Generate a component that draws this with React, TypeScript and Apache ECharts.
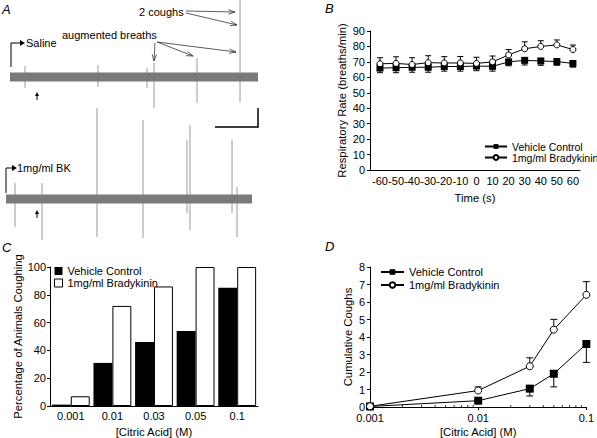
import React, { useEffect, useRef } from 'react';
import * as echarts from 'echarts';

// ---------- Panel A : raw respiratory traces ----------
const traceTopEnd = 248;
const traceTopTimes = [15, 88, 137, 144, 187, 230];
const traceTopHigh = [11, 12, 9, 14, 19, 77];
const traceTopLow = [-11, -10, -11, -31, -26, -25];

const traceBotEnd = 246;
const traceBotTimes = [9, 36, 91, 137, 181, 184, 226, 231];
const traceBotHigh = [16, 16, 91, 79, 59, 74, 59, 12];
const traceBotLow = [-28, -41, -38, -39, -14, -31, -14, -38];

// ---------- Panel B : respiratory rate ----------
const timeS = [-60, -50, -40, -30, -20, -10, 0, 10, 20, 30, 40, 50, 60];
const timeTicks = [-60, -50, -40, -30, -20, -10, 0, 10, 20, 30, 40, 50, 60];
const rrVehicle = [66, 66.2, 66.5, 66.5, 67, 67, 67.3, 67.1, 70, 71, 70.6, 70.2, 69];
const rrVehicleLow = [63, 63, 63.3, 63.3, 64, 64, 64.3, 64, 67.5, 68, 67.8, 67.8, 66.6];
const rrBrady = [68.8, 69, 68.3, 69.5, 69.3, 69.3, 69, 70, 74.5, 78.5, 80, 81, 78];
const rrBradyHigh = [72.7, 73.3, 72.7, 74, 73.4, 73.5, 73, 73.8, 78, 83, 83.7, 84.2, 80.9];

// ---------- Panel C : percentage coughing ----------
const citricCats = ['0.001', '0.01', '0.03', '0.05', '0.1'];
const pctVehicle = [1, 31, 46, 54, 85];
const pctBrady = [7, 72, 86, 100, 100];

// ---------- Panel D : cumulative coughs ----------
const citricConc = [0.001, 0.01, 0.03, 0.05, 0.1];
const coughVehicle = [0.03, 0.36, 1.05, 1.9, 3.6];
const coughVehicleLow = [0.03, 0.36, 0.63, 1.15, 2.55];
const coughBrady = [0.04, 0.94, 2.33, 4.42, 6.41];
const coughBradyHigh = [0.04, 1.15, 2.81, 5.01, 7.16];
const logMinorTicks = [0.002, 0.003, 0.004, 0.005, 0.006, 0.007, 0.008, 0.009, 0.02, 0.03, 0.04, 0.05, 0.06, 0.07, 0.08, 0.09];

const FONT = '"Liberation Sans", Arial, Helvetica, sans-serif';

function openArrow(x1: number, y1: number, x2: number, y2: number) {
  const ang = Math.atan2(y2 - y1, x2 - x1);
  const L = 7, a = 0.32;
  const h1 = [x2 - L * Math.cos(ang - a), y2 - L * Math.sin(ang - a)];
  const h2 = [x2 - L * Math.cos(ang + a), y2 - L * Math.sin(ang + a)];
  return [
    { type: 'line', shape: { x1, y1, x2, y2 }, style: { stroke: '#333', lineWidth: 0.8 } },
    { type: 'polyline', shape: { points: [h1, [x2, y2], h2] }, style: { stroke: '#333', lineWidth: 0.8, fill: 'none' } },
  ];
}

function txt(text: string, x: number, y: number, size = 11, italic = false, align = 'left') {
  return {
    type: 'text', x, y,
    style: { text, fill: '#000', font: `${italic ? 'italic ' : ''}${size}px ${FONT}`, align, verticalAlign: 'middle' },
  };
}

const spikeRender = (params: any, api: any) => {
  const t = api.value(0);
  const p1 = api.coord([t, api.value(1)]);
  const p2 = api.coord([t, api.value(2)]);
  return { type: 'line', shape: { x1: p1[0], y1: p1[1], x2: p2[0], y2: p2[1] }, style: { stroke: '#9a9a9a', lineWidth: 1 } };
};

const errRender = (capW: number) => (params: any, api: any) => {
  const x = api.value(0);
  const p1 = api.coord([x, api.value(1)]);
  const p2 = api.coord([x, api.value(2)]);
  return {
    type: 'group',
    children: [
      { type: 'line', shape: { x1: p1[0], y1: p1[1], x2: p2[0], y2: p2[1] }, style: { stroke: '#000', lineWidth: 1 } },
      { type: 'line', shape: { x1: p2[0] - capW / 2, y1: p2[1], x2: p2[0] + capW / 2, y2: p2[1] }, style: { stroke: '#000', lineWidth: 1 } },
    ],
  };
};

const minorTickRender = (params: any, api: any) => {
  const p = api.coord([api.value(0), 0]);
  return { type: 'line', shape: { x1: p[0], y1: p[1], x2: p[0], y2: p[1] - 2 }, style: { stroke: '#000', lineWidth: 0.8 } };
};

const axisLbl = { color: '#000', fontSize: 11, fontFamily: FONT };
const nameStyle = { color: '#000', fontSize: 11.3, fontFamily: FONT };
const blackLine = { show: true, onZero: false, lineStyle: { color: '#000', width: 1 } };
const fmtName = (n: string) => n.split('|')[1];

export default function App() {
  const ref = useRef<HTMLDivElement>(null);
  useEffect(() => {
    if (!ref.current) return;
    const chart = echarts.init(ref.current, undefined, { renderer: 'svg' });
    const hiddenX = (min: number, max: number, gi: number) => ({ type: 'value', gridIndex: gi, min, max, show: false });
    const option: any = {
      animation: false,
      backgroundColor: '#fff',
      textStyle: { fontFamily: FONT, color: '#000' },
      grid: [
        { left: 10, top: 0, width: 250, height: 120 },
        { left: 6, top: 100, width: 250, height: 145 },
        { left: 370, top: 31, width: 210, height: 139 },
        { left: 50, top: 267, width: 208, height: 139 },
        { left: 370, top: 267, width: 217, height: 140 },
      ],
      xAxis: [
        hiddenX(0, 250, 0),
        hiddenX(0, 250, 1),
        {
          type: 'value', gridIndex: 2, min: -66.2, max: 64.4,
          axisLine: blackLine, axisTick: { show: false }, splitLine: { show: false },
          axisLabel: { ...axisLbl, margin: 5, customValues: timeTicks },
          name: 'Time (s)', nameLocation: 'middle', nameGap: 22, nameTextStyle: nameStyle,
        },
        {
          type: 'category', gridIndex: 3, data: citricCats,
          axisLine: blackLine, axisTick: { show: false },
          axisLabel: { ...axisLbl, margin: 4 },
          name: '[Citric Acid] (M)', nameLocation: 'middle', nameGap: 20, nameTextStyle: nameStyle,
        },
        {
          type: 'log', logBase: 10, gridIndex: 4, min: 0.001, max: 0.1,
          axisLine: blackLine, axisTick: { show: true, length: 3, lineStyle: { color: '#000' } }, splitLine: { show: false },
          axisLabel: { ...axisLbl, margin: 5, formatter: (v: number) => String(+(+v).toPrecision(3)) },
          name: '[Citric Acid] (M)', nameLocation: 'middle', nameGap: 19, nameTextStyle: nameStyle,
        },
      ],
      yAxis: [
        { type: 'value', gridIndex: 0, min: -43, max: 77, show: false },
        { type: 'value', gridIndex: 1, min: -46, max: 99, show: false },
        {
          type: 'value', gridIndex: 2, min: 0, max: 90, interval: 10,
          axisLine: blackLine, axisTick: { show: true, length: 3, lineStyle: { color: '#000' } }, splitLine: { show: false },
          axisLabel: { ...axisLbl, margin: 5 },
          name: 'Respiratory Rate (breaths/min)', nameLocation: 'middle', nameGap: 23, nameTextStyle: nameStyle,
        },
        {
          type: 'value', gridIndex: 3, min: 0, max: 100, interval: 20,
          axisLine: blackLine, axisTick: { show: true, length: 3, lineStyle: { color: '#000' } }, splitLine: { show: false },
          axisLabel: { ...axisLbl, margin: 4 },
          name: 'Percentage of Animals Coughing', nameLocation: 'middle', nameGap: 27, nameTextStyle: nameStyle,
        },
        {
          type: 'value', gridIndex: 4, min: 0, max: 8, interval: 1,
          axisLine: blackLine, axisTick: { show: true, length: 3, lineStyle: { color: '#000' } }, splitLine: { show: false },
          axisLabel: { ...axisLbl, margin: 5 },
          name: 'Cumulative Coughs', nameLocation: 'middle', nameGap: 17, nameTextStyle: nameStyle,
        },
      ],
      legend: [
        {
          left: 484, top: 141, orient: 'vertical', padding: 0, itemGap: 0, itemWidth: 22, itemHeight: 6, itemTextGap: 3,
          selectedMode: false, formatter: fmtName,
          textStyle: { color: '#000', fontSize: 10.5, fontFamily: FONT, lineHeight: 11 },
          data: ['B|Vehicle Control', 'B|1mg/ml Bradykinin'],
        },
        {
          left: 54, top: 265, orient: 'vertical', padding: 0, itemGap: 0, itemWidth: 8, itemHeight: 8, itemTextGap: 4,
          selectedMode: false, formatter: fmtName,
          textStyle: { color: '#000', fontSize: 11, fontFamily: FONT, lineHeight: 12 },
          data: [
            { name: 'C|Vehicle Control', icon: 'rect', itemStyle: { color: '#000' } },
            { name: 'C|1mg/ml Bradykinin', icon: 'rect', itemStyle: { color: '#fff', borderColor: '#000', borderWidth: 1 } },
          ],
        },
        {
          left: 380, top: 265.5, orient: 'vertical', padding: 0, itemGap: 0, itemWidth: 23, itemHeight: 7, itemTextGap: 4,
          selectedMode: false, formatter: fmtName,
          textStyle: { color: '#000', fontSize: 11, fontFamily: FONT, lineHeight: 13 },
          data: ['D|Vehicle Control', 'D|1mg/ml Bradykinin'],
        },
      ],
      series: [
        // Panel A traces
        {
          type: 'custom', name: 'spikesTop', xAxisIndex: 0, yAxisIndex: 0, silent: true, z: 1,
          renderItem: spikeRender, data: traceTopTimes.map((t, i) => [t, traceTopHigh[i], traceTopLow[i]]),
        },
        {
          type: 'line', name: 'bandTop', xAxisIndex: 0, yAxisIndex: 0, silent: true, z: 2, symbol: 'none',
          lineStyle: { color: '#7a7a7a', width: 9, cap: 'butt' }, data: [[0, 0], [traceTopEnd, 0]],
        },
        {
          type: 'custom', name: 'spikesBot', xAxisIndex: 1, yAxisIndex: 1, silent: true, z: 1,
          renderItem: spikeRender, data: traceBotTimes.map((t, i) => [t, traceBotHigh[i], traceBotLow[i]]),
        },
        {
          type: 'line', name: 'bandBot', xAxisIndex: 1, yAxisIndex: 1, silent: true, z: 2, symbol: 'none',
          lineStyle: { color: '#7a7a7a', width: 9, cap: 'butt' }, data: [[0, 0], [traceBotEnd, 0]],
        },
        // Panel B
        {
          type: 'custom', name: 'errBV', xAxisIndex: 2, yAxisIndex: 2, z: 1, silent: true,
          renderItem: errRender(6), data: timeS.map((t, i) => [t, rrVehicle[i], rrVehicleLow[i]]),
        },
        {
          type: 'custom', name: 'errBB', xAxisIndex: 2, yAxisIndex: 2, z: 1, silent: true,
          renderItem: errRender(6), data: timeS.map((t, i) => [t, rrBrady[i], rrBradyHigh[i]]),
        },
        {
          type: 'line', name: 'B|Vehicle Control', xAxisIndex: 2, yAxisIndex: 2, z: 3,
          symbol: 'rect', symbolSize: 7, itemStyle: { color: '#000' }, lineStyle: { color: '#000', width: 1 },
          data: timeS.map((t, i) => [t, rrVehicle[i]]),
        },
        {
          type: 'line', name: 'B|1mg/ml Bradykinin', xAxisIndex: 2, yAxisIndex: 2, z: 4,
          symbol: 'circle', symbolSize: 6, itemStyle: { color: '#fff', borderColor: '#000', borderWidth: 1 },
          lineStyle: { color: '#000', width: 1 },
          data: timeS.map((t, i) => [t, rrBrady[i]]),
        },
        // Panel C
        {
          type: 'bar', name: 'C|Vehicle Control', xAxisIndex: 3, yAxisIndex: 3,
          barGap: '0%', barCategoryGap: '9%', itemStyle: { color: '#000' }, data: pctVehicle,
        },
        {
          type: 'bar', name: 'C|1mg/ml Bradykinin', xAxisIndex: 3, yAxisIndex: 3,
          barGap: '0%', barCategoryGap: '9%', itemStyle: { color: '#fff', borderColor: '#000', borderWidth: 1 }, data: pctBrady,
        },
        // Panel D
        {
          type: 'custom', name: 'minorD', xAxisIndex: 4, yAxisIndex: 4, z: 1, silent: true,
          renderItem: minorTickRender, data: logMinorTicks.map((v) => [v, 0]),
        },
        {
          type: 'custom', name: 'errDV', xAxisIndex: 4, yAxisIndex: 4, z: 1, silent: true,
          renderItem: errRender(7), data: citricConc.map((c, i) => [c, coughVehicle[i], coughVehicleLow[i]]),
        },
        {
          type: 'custom', name: 'errDB', xAxisIndex: 4, yAxisIndex: 4, z: 1, silent: true,
          renderItem: errRender(7), data: citricConc.map((c, i) => [c, coughBrady[i], coughBradyHigh[i]]),
        },
        {
          type: 'line', name: 'D|Vehicle Control', xAxisIndex: 4, yAxisIndex: 4, z: 3,
          symbol: 'rect', symbolSize: 8, itemStyle: { color: '#000' }, lineStyle: { color: '#000', width: 1 },
          data: citricConc.map((c, i) => [c, coughVehicle[i]]),
        },
        {
          type: 'line', name: 'D|1mg/ml Bradykinin', xAxisIndex: 4, yAxisIndex: 4, z: 4,
          symbol: 'circle', symbolSize: 7, itemStyle: { color: '#fff', borderColor: '#000', borderWidth: 1 },
          lineStyle: { color: '#000', width: 1 },
          data: citricConc.map((c, i) => [c, coughBrady[i]]),
        },
      ],
      graphic: [
        txt('A', 2, 9, 13, true),
        txt('B', 325, 8, 13, true),
        txt('C', 2, 247, 13, true),
        txt('D', 325, 246, 13, true),
        txt('2 coughs', 139, 12),
        txt('augmented breaths', 62, 35),
        txt('Saline', 26, 43),
        txt('1mg/ml BK', 17, 168),
        ...openArrow(186, 11, 235, 12),
        ...openArrow(186, 13, 237, 25),
        ...openArrow(155, 43, 154, 61),
        ...openArrow(157, 42, 193, 56),
        ...openArrow(157, 42, 236, 52),
        { type: 'polyline', shape: { points: [[11, 67], [11, 43], [21, 43]] }, style: { stroke: '#000', lineWidth: 1, fill: 'none' } },
        { type: 'polygon', shape: { points: [[20, 40], [25, 43], [20, 46]] }, style: { fill: '#000' } },
        { type: 'polyline', shape: { points: [[6, 193], [6, 168], [12, 168]] }, style: { stroke: '#000', lineWidth: 1, fill: 'none' } },
        { type: 'polygon', shape: { points: [[12, 165], [17, 168], [12, 171]] }, style: { fill: '#000' } },
        { type: 'line', shape: { x1: 37, y1: 100, x2: 37, y2: 95 }, style: { stroke: '#000', lineWidth: 1 } },
        { type: 'polygon', shape: { points: [[35, 96], [37, 92], [39, 96]] }, style: { fill: '#000' } },
        { type: 'line', shape: { x1: 37, y1: 218, x2: 37, y2: 213 }, style: { stroke: '#000', lineWidth: 1 } },
        { type: 'polygon', shape: { points: [[35, 214], [37, 210], [39, 214]] }, style: { fill: '#000' } },
        { type: 'polyline', shape: { points: [[215, 127], [258, 127], [258, 108]] }, style: { stroke: '#000', lineWidth: 1.5, fill: 'none' } },
      ],
    };
    chart.setOption(option);
    return () => chart.dispose();
  }, []);
  return <div ref={ref} style={{ position: 'fixed', left: 0, top: 0, width: 597, height: 438, background: '#fff' }} />;
}
